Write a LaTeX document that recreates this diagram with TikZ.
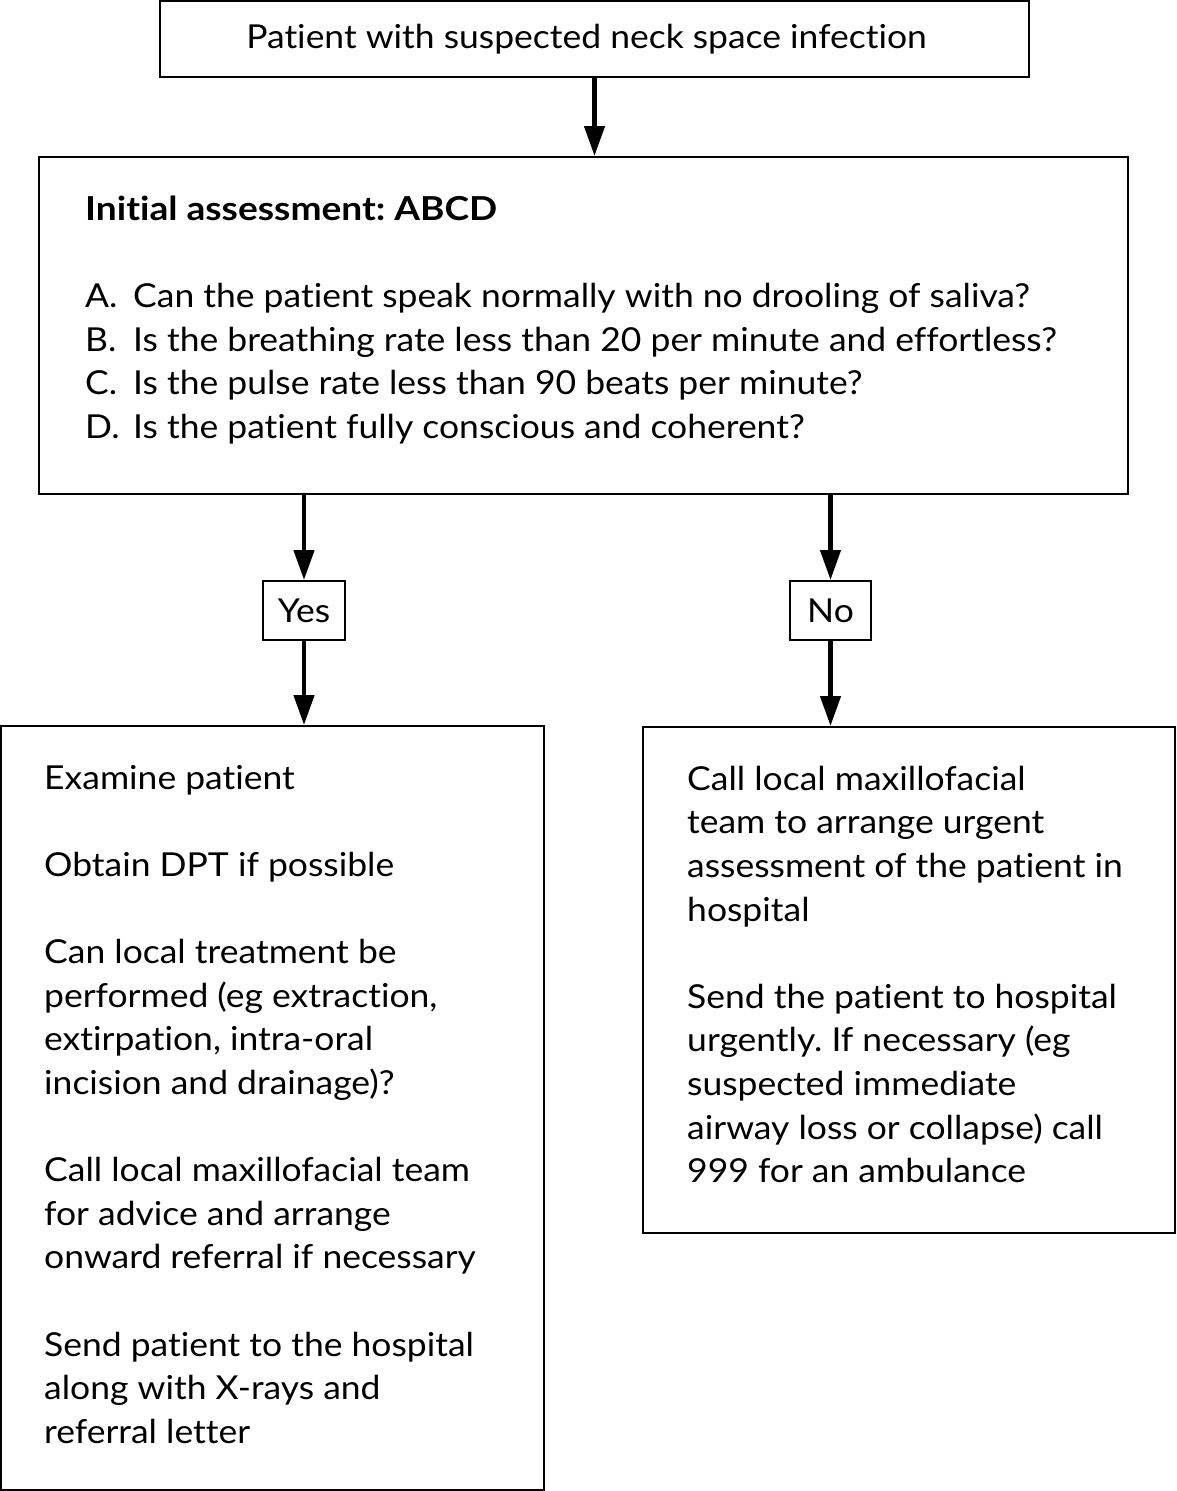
\documentclass[tikz,border=0pt]{standalone}
\usepackage{fontspec}
\setmainfont[Ligatures=NoCommon, FakeStretch=1.075, BoldFeatures={FakeStretch=1.124}]{Lato}
\usetikzlibrary{arrows.meta}
\tikzset{
  frame/.style={draw, line width=2pt, inner sep=0pt, anchor=center},
  body/.style={font=\fontsize{33}{43.6}\selectfont},
  txt/.style={body, align=left, inner sep=0pt, anchor=north west},
  arr/.style={line width=4.5pt, -{Triangle[width=20pt,length=30pt]}},
}
\newcommand{\itm}[1]{\makebox[48pt][l]{#1}}
\frenchspacing
\begin{document}
\begin{tikzpicture}[x=1pt,y=1pt]
\useasboundingbox (0,0) rectangle (1176,-1491);
% boxes
\node[frame, body, minimum width=869pt, minimum height=76pt] (top) at (594.5,-39) {Patient with suspected neck space infection\hspace*{16pt}};
\node[frame, minimum width=1089pt, minimum height=337pt] (big) at (583.5,-325.5) {};
\node[frame, body, minimum width=82pt, minimum height=59pt] (yes) at (304,-610.5) {Yes};
\node[frame, body, minimum width=81pt, minimum height=59pt] (no) at (830.5,-610.5) {No};
\node[frame, minimum width=543pt, minimum height=764pt] (left) at (272.5,-1108) {};
\node[frame, minimum width=532pt, minimum height=506pt] (right) at (909,-980) {};
% texts
\node[txt] (bigtxt) at (85,-189.5) {\strut\textbf{Initial assessment: ABCD}\\[43.6pt]
\itm{A.}Can the patient speak normally with no drooling of saliva?\\
\itm{B.}Is the breathing rate less than 20 per minute and effortless?\\
\itm{C.}Is the pulse rate less than 90 beats per minute?\\
\itm{D.}Is the patient fully conscious and coherent?};
\node[txt] (lefttxt) at (44,-758.5) {\strut Examine patient\\[43.6pt]
Obtain DPT if possible\\[43.6pt]
Can local treatment be\\
performed (eg extraction,\\
extirpation, intra-oral\\
incision and drainage)?\\[43.6pt]
Call local maxillofacial team\\
for advice and arrange\\
onward referral if necessary\\[43.6pt]
Send patient to the hospital\\
along with X-rays and\\
referral letter};
\node[txt] (righttxt) at (687,-759.5) {\strut Call local maxillofacial\\
team to arrange urgent\\
assessment of the patient in\\
hospital\\[43.6pt]
Send the patient to hospital\\
urgently. If necessary (eg\\
suspected immediate\\
airway loss or collapse) call\\
999 for an ambulance};
% connectors
\draw[arr] (top.south) -- (top.south |- big.north);
\draw[arr] (yes.north |- big.south) -- (yes.north);
\draw[arr] (no.north |- big.south) -- (no.north);
\draw[arr] (yes.south) -- (yes.south |- left.north);
\draw[arr] (no.south) -- (no.south |- right.north);
\end{tikzpicture}
\end{document}
